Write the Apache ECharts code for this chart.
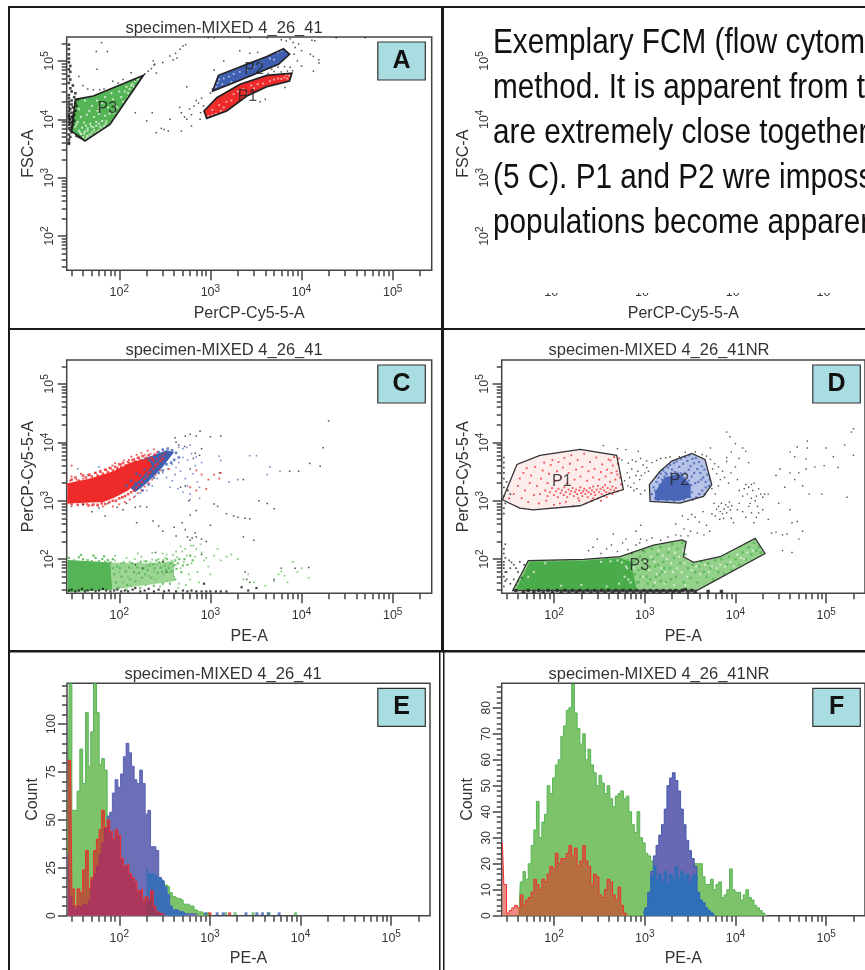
<!DOCTYPE html>
<html>
<head>
<meta charset="utf-8" />
<title>FCM panels</title>
<script src="https://cdn.jsdelivr.net/npm/echarts@6/dist/echarts.min.js"></script>
<style>html,body{margin:0;padding:0;background:#fff}#chart{width:865px;height:970px}</style>
</head>
<body>
<div id="chart"></div>
<script>
// tick values
const logMajor = [100, 1000, 10000, 100000];
const logMinor = [30,40,50,60,70,80,90,200,300,400,500,600,700,800,900,2000,3000,4000,5000,6000,7000,8000,9000,20000,30000,40000,50000,60000,70000,80000,90000,200000];
const countMajorE = [0, 25, 50, 75, 100];
const countMinorE = [5,10,15,20,30,35,40,45,55,60,65,70,80,85,90,95,105,110,115,120];
const countMajorF = [0, 10, 20, 30, 40, 50, 60, 70, 80];
const countMinorF = [2,4,6,8,12,14,16,18,22,24,26,28,32,34,36,38,42,44,46,48,52,54,56,58,62,64,66,68,72,74,76,78,82,84,86,88];

const captionLines = ['Exemplary FCM (flow cytom', 'method. It is apparent from t', 'are extremely close together', '(5 C). P1 and P2 wre imposs', 'populations become apparen'];

// panel A gates
const gateA1 = [[851,13900],[1175,23500],[2120,39800],[4160,56700],[7830,61500],[7380,45400],[4160,36300],[2510,25100],[1510,13900],[912,10400]];
const gateA2 = [[1060,30600],[1225,56700],[2510,87700],[4160,118700],[6340,162000],[7380,130000],[5580,87700],[2730,55300],[1640,39800]];
const gateA3 = [[33,22000],[52,25100],[184,56700],[79,8200],[42,4250],[30,6300]];
const aGaps3 = [[40,5000],[44,5200],[38,5600],[47,5500],[36,6400],[42,6200],[50,6000],[55,5800],[33,7500],[39,7200],[45,7000],[52,7300],[60,6500],[62,7500],[68,7700],[35,9000],[41,8800],[48,8400],[56,9000],[65,9400],[72,9200],[38,11000],[44,12000],[53,11000],[60,12500],[70,11500],[78,12500],[88,13000],[95,16000],[110,20000],[125,28000],[85,22000],[100,30000],[120,36000],[140,40000],[150,45000],[65,19000],[50,17000],[42,21000],[75,16000],[60,16000],[105,24000],[90,18000],[130,33000],[36,15000],[47,14000],[58,14000],[82,28000],[70,24000],[57,21000],[43,4700],[46,4900],[50,5300],[41,5700],[37,6000],[45,6400],[53,6500],[58,6200],[64,7000],[71,8400],[34,8200],[43,7800],[49,7600],[56,7800],[60,8400],[115,30000],[135,38000],[160,48000],[145,36000],[125,24000]];
const aGaps1 = [[950,11500],[1050,12000],[1150,12500],[1300,14000],[1050,14500],[1250,17500],[1500,20000],[1400,16000],[1700,21000],[2000,30000],[2300,33000],[2500,28000],[2800,38000],[3300,40000],[3800,41000],[4500,45000],[5000,48000],[5500,50000],[6000,49000],[6500,52000],[7000,50000],[7300,56000],[6800,58000],[3000,34000],[1800,27000]];
const aGaps2 = [[1250,48000],[1400,50000],[1600,54000],[1800,60000],[2100,65000],[1350,40000],[1150,36000],[1200,42000],[2500,70000],[3000,80000],[3600,92000],[4500,110000],[5500,140000],[6000,150000],[5000,105000],[1700,44000]];
const aNoise = [[64,206000],[56,145000],[74,145000],[57,72000],[36,54000],[40,38000],[45,33000],[52,32000],[61,32000],[68,33000],[85,45000],[97,42000],[110,48000],[135,63000],[150,47000],[175,52000],[190,60000],[208,67000],[225,74000],[255,62000],[240,85000],[236,100000],[245,88000],[300,94000],[360,122000],[390,104000],[430,112000],[465,158000],[500,180000],[535,190000],[415,135000],[150,13000],[230,13000],[200,9400],[255,5900],[310,6700],[290,7000],[360,10000],[345,6300],[460,16000],[480,13000],[520,11000],[550,10000],[620,12000],[590,15000],[700,21000],[800,23000],[740,19000],[660,17000],[550,36000],[480,6300],[620,7700],[770,10000],[780,13000],[840,17000],[1000,28000],[1050,33000],[2100,150000],[2700,135000],[3300,140000],[1400,100000],[1100,70000],[8100,207000],[9300,194000],[13000,225000],[14000,222000],[12500,130000],[13500,120000],[15500,105000],[15500,92000],[13500,67000],[10000,82000],[9000,100000],[8300,130000],[10000,150000],[950,250000],[1100,250000],[2700,250000],[4200,250000],[7500,240000],[6800,220000],[8500,170000],[6000,230000],[24000,250000],[50000,250000],[3500,20000],[4000,22000],[6600,35000],[5500,78000],[6500,80000],[7500,78000],[8000,68000],[5000,66000],[4300,61000],[6000,65000],[7000,67000],[4700,72000]];
const aEdge = [[28,4000],[28,4500],[29,5000],[28,5500],[30,6000],[29,6500],[28,7000],[30,7500],[31,8000],[29,8500],[30,9000],[32,9500],[29,10000],[31,10500],[30,11000],[28,11500],[32,12000],[30,13000],[33,14000],[29,15000],[31,16000],[34,17000],[30,18000],[33,19000],[30,21000],[35,22000],[32,24000],[28,26000],[33,28000],[30,30000],[29,34000],[31,38000],[28,42000],[29,48000],[28,55000],[29,65000],[28,72000],[29,82000],[28,95000],[28,110000],[28,130000],[28,160000],[28,190000],[28,3800],[38,4800],[36,5000],[34,5200],[28,8000],[28,9000],[28,10000],[28,11000],[28,12500],[28,14000],[28,16000],[28,18000],[28,20000],[28,23000],[30,7000],[31,9000],[31,11500]];

// panel C clouds, dense parts are outlines of the solid area
const cBlueCore = [[130,1700],[170,5000],[331,7300],[400,6800],[300,3800],[200,2000],[150,1400]];
const cRedCore = [[27,2000],[48,2400],[86,3200],[143,4700],[200,5200],[230,4000],[170,2300],[125,1500],[90,1150],[67,950],[27,900]];
const cGreenCore = [[27,97],[48,92],[80,88],[84,30],[27,27]];
const cGreenBand = [[80,88],[200,85],[400,92],[400,42],[84,30]];
const cRed = [[27,900],[27,1100],[28,1300],[28,1600],[27,1900],[29,2200],[30,2600],[32,1000],[34,2300],[36,950],[38,2900],[40,2400],[44,880],[46,2700],[50,830],[54,3000],[58,820],[62,3100],[66,800],[72,3400],[78,3700],[84,4000],[90,4400],[96,3700],[104,4200],[112,4900],[120,4100],[128,5000],[136,5700],[146,5200],[155,6100],[165,5500],[175,6600],[190,6100],[205,7200],[220,6400],[240,7600],[260,6800],[85,800],[100,870],[115,950],[130,1050],[145,1150],[160,1350],[175,1500],[190,1750],[210,2000],[230,2300],[250,2800],[280,3300],[200,4400],[180,3500],[220,3800],[240,4700],[260,5100],[280,5600],[300,6000],[320,6400],[210,5200],[190,4700],[155,4300],[700,3300],[800,2800],[950,2300],[1100,2800],[1250,2400],[700,1500],[900,1600],[600,1700],[350,3500],[1300,3000],[30,4000]];
const cRedFuzz = [[30,2300],[33,2500],[36,2200],[40,2700],[43,2500],[47,2800],[50,2600],[55,3000],[58,2700],[62,3200],[66,2900],[70,3400],[75,3100],[80,3600],[85,3300],[90,3800],[95,3500],[100,4200],[105,3800],[110,4400],[118,4000],[125,4600],[130,4300],[140,5000],[150,4700],[160,5400],[170,5000],[180,5800],[195,5400],[210,6000],[225,5400],[245,6200],[30,880],[35,850],[40,880],[46,830],[52,860],[58,850],[64,900],[70,880],[78,950],[85,1000],[92,1000],[100,1100],[108,1150],[116,1200],[125,1300],[135,1400],[145,1500],[155,1700],[165,1900],[178,2100],[190,2400],[205,2700],[220,3100],[235,3500],[250,3900],[265,4300],[285,4800],[300,5200],[180,2800],[200,3300],[215,4500],[235,5000],[250,4100],[165,3000],[190,3800],[210,3000]];
const cBlue = [[330,2500],[360,1700],[380,2200],[410,2800],[440,1600],[470,3200],[500,1400],[530,2400],[560,1800],[600,1300],[640,2900],[680,4000],[720,2100],[760,1700],[800,4500],[450,4500],[500,5500],[380,4200],[340,3500],[300,3000],[260,2400],[230,1800],[200,1500],[170,1350],[150,1200],[420,3700],[560,5000],[620,6400],[700,5600],[1250,5800],[1300,4900],[2700,5900],[3200,5900],[4500,3800],[5800,3200],[4200,2800],[2000,2300],[1600,2100],[760,1100],[600,1050],[35,3500],[60,3800],[45,2800],[500,7800],[450,8200],[550,8200],[600,9000]];
const cBlueFuzz = [[150,2000],[170,2700],[190,3400],[200,2500],[215,3100],[230,4300],[170,1700],[185,2200],[240,3000],[260,3900],[280,4800],[300,5600],[270,6800],[300,7500],[340,7800],[380,7300],[420,6600],[450,5500],[400,5000],[370,4500],[330,4200],[300,3300],[270,3000],[240,2500],[210,1900],[180,1500],[350,6000],[310,6500],[250,5900],[270,5200],[135,2200],[155,2900],[120,1800]];
const cGreen = [[90,95],[100,60],[105,85],[110,40],[115,75],[120,105],[125,50],[130,90],[135,35],[140,70],[148,100],[155,55],[160,85],[168,42],[175,110],[180,65],[188,92],[195,36],[200,75],[210,52],[220,88],[230,98],[240,62],[250,45],[260,80],[270,100],[280,34],[290,70],[300,90],[310,55],[320,105],[330,42],[345,78],[360,60],[375,95],[390,118],[400,50],[415,80],[430,108],[450,38],[470,70],[490,135],[510,90],[530,150],[550,115],[580,55],[600,45],[620,85],[650,170],[680,110],[700,150],[720,60],[750,40],[780,180],[800,130],[850,95],[900,105],[950,75],[1000,55],[1100,115],[1200,150],[1300,95],[1500,110],[1700,120],[2000,100],[2300,45],[2600,55],[3000,40],[4000,35],[5000,42],[5600,55],[6000,62],[6500,52],[8000,90],[9000,60],[10000,70],[12000,48],[7000,40],[440,32],[540,36],[420,135],[330,120],[610,170],[470,165],[90,115],[160,125],[230,128],[300,125]];
const cGreenFuzz = [[28,105],[32,95],[36,108],[40,100],[45,96],[50,92],[55,105],[60,92],[65,100],[70,90],[75,96],[80,88],[85,100],[38,118],[52,115],[68,112],[85,70],[88,55],[92,40],[95,75],[98,32],[102,70],[106,50],[112,88],[118,62],[122,36],[128,72],[132,45],[138,85],[145,60],[150,42],[158,72],[165,58],[172,90],[178,48],[185,70],[192,55],[198,92],[205,65],[215,78],[225,48],[235,82],[245,70],[255,95],[265,58],[275,88],[285,72],[295,60],[305,95],[315,78],[325,65],[335,100],[350,70],[365,85],[380,62],[395,78],[410,95],[425,68],[440,85],[455,100],[480,60],[500,78],[520,100],[560,80],[600,115],[640,95],[410,45],[360,38],[300,38],[240,35],[170,32],[120,30]];
const cNoise = [[30,800],[40,850],[50,650],[60,750],[70,550],[75,900],[95,770],[110,700],[120,900],[150,770],[170,800],[200,780],[155,420],[235,450],[270,370],[300,300],[400,350],[420,250],[490,420],[530,320],[600,570],[680,280],[560,240],[600,210],[630,230],[700,240],[800,220],[900,200],[1200,800],[1100,880],[1500,600],[1800,550],[2000,520],[2400,500],[2700,490],[3400,1000],[4200,900],[5000,730],[2300,240],[3000,210],[2400,60],[2500,45],[2700,40],[5000,45],[6000,70],[8500,70],[12000,72],[19800,23300],[17300,8100],[12300,4350],[16000,3900],[9300,3200],[7400,3200],[2300,2300],[1260,3000],[1300,12800],[1000,12500],[770,15500],[700,12800],[600,13700],[530,12800],[410,12000],[450,9000],[520,8500],[420,10000],[680,6500],[760,6000],[650,5300],[800,7800],[600,3500],[530,1800],[470,1700],[580,1000],[700,680],[1000,380],[800,120],[300,90],[250,130],[180,70],[150,80],[330,60]];
const cBase = [[28,29],[30,30],[33,28],[36,29],[39,31],[42,28],[45,29],[50,30],[55,28],[60,29],[66,31],[72,29],[80,28],[88,29],[95,30],[105,28],[115,29],[125,28],[140,30],[150,32],[170,28],[190,29],[210,31],[240,28],[270,30],[310,28],[350,29],[420,28],[500,29],[560,28],[620,29],[700,28],[800,28],[900,28],[1000,28],[1150,28],[1300,28],[1500,28],[2200,33],[2600,29],[3200,32],[850,38]];

// panel D gates, clouds
const gateD1 = [[27,1040],[39,4180],[70,5970],[194,7570],[491,5970],[582,1550],[381,1270],[194,820],[59,700],[42,748]];
const gateD2 = [[1125,1890],[1475,3200],[1985,4770],[3300,6460],[4620,5090],[5480,1890],[4440,1190],[2455,910],[1145,975]];
const gateD3 = [[35,29],[52,94],[211,99],[534,110],[1250,174],[2560,213],[2860,199],[2670,110],[3440,88],[6770,110],[16500,227],[21200,125],[3750,29]];
const dBlueCore = [[1300,1400],[1650,2500],[2400,2900],[3200,1900],[3200,1150],[2400,1000],[1300,1030]];
const dGreenCore = [[38,30],[54,90],[211,94],[534,105],[700,90],[820,30]];
const dRed = [[70,1300],[80,1500],[85,1200],[90,1400],[95,1650],[100,1250],[105,1450],[110,1150],[112,1600],[118,1350],[122,1500],[128,1250],[130,1700],[135,1400],[140,1150],[145,1550],[150,1300],[155,1450],[160,1650],[165,1200],[170,1400],[175,1550],[180,1300],[185,1100],[190,1500],[195,1700],[200,1350],[205,1200],[210,1450],[215,1600],[222,1300],[228,1500],[235,1150],[240,1400],[248,1650],[255,1300],[262,1500],[270,1750],[278,1400],[285,1250],[295,1550],[305,1800],[315,1400],[325,1600],[335,1300],[345,1700],[355,1500],[365,1850],[375,1400],[390,1650],[405,1350],[420,1550],[440,1750],[460,1500],[480,1650],[500,1450],[32,1100],[36,1300],[40,1800],[42,2400],[44,1100],[46,3000],[48,1500],[50,3600],[52,950],[54,2000],[56,2700],[60,1250],[62,3800],[65,1800],[68,900],[72,2400],[75,3300],[78,4500],[82,1000],[85,2000],[88,2900],[92,4100],[96,5000],[100,850],[104,2200],[108,3200],[112,4600],[116,900],[120,2500],[125,3700],[130,5400],[135,950],[140,2000],[145,3000],[150,4300],[155,6000],[162,800],[168,2300],[175,3400],[182,5000],[190,1000],[196,2600],[205,3800],[215,6400],[225,900],[232,2200],[240,3200],[250,4600],[260,1000],[270,2500],[280,3500],[292,5500],[305,1100],[315,2300],[328,3100],[340,4200],[355,1200],[370,2600],[385,3400],[400,5100],[415,2100],[430,3000],[445,4000],[460,5600],[475,2300],[490,3200],[505,4300],[520,5300],[535,2500],[550,1900],[440,1300],[380,1150],[330,1000],[270,1100],[500,2800],[420,4900]];
const dBlue = [[1200,1300],[1250,1700],[1300,1100],[1350,2100],[1420,2500],[1500,2900],[1600,3300],[1700,3000],[1800,3700],[1900,4100],[2000,3400],[2100,4400],[2250,4700],[2400,3800],[2500,5200],[2650,4300],[2800,5600],[2950,4800],[3100,6000],[3200,3900],[3350,5200],[3500,4400],[3650,5400],[3800,3500],[3950,4600],[4100,3000],[4250,3900],[4400,2500],[4550,3400],[4700,2100],[4900,2800],[5100,1800],[5200,2300],[4300,1500],[4000,1300],[3700,1150],[3400,1050],[3100,1600],[2900,1250],[4600,1300],[3600,2000],[3300,2600],[3900,2100],[2800,3000],[3050,3400],[3500,3000],[4200,2300],[4700,1700],[2300,3000],[2600,2700],[1300,1500],[1350,1250],[1450,1900],[1550,2300],[1650,2600],[1750,2800],[1950,2950],[2150,3100],[2500,2950],[2750,2450],[3050,2200],[3250,1850],[3300,1400],[3150,1150],[2700,1050],[2100,1000],[1750,1020],[1400,1030]];
const dGreen = [[700,60],[760,90],[820,40],[880,110],[930,70],[1000,135],[1050,50],[1100,95],[1200,150],[1250,35],[1300,75],[1380,120],[1450,55],[1500,160],[1600,90],[1700,40],[1800,130],[1900,70],[2000,180],[2100,105],[2200,50],[2300,150],[2450,85],[2600,190],[2700,40],[2800,120],[3000,70],[3200,48],[3400,80],[3600,60],[3800,40],[4000,75],[4200,90],[4500,60],[4800,50],[5000,85],[5300,70],[5700,45],[6000,95],[6500,60],[7000,100],[7500,55],[8000,80],[8500,110],[9000,65],[10000,100],[11000,80],[12000,130],[13000,100],[14000,160],[15000,120],[16000,190],[17000,140],[18000,160],[19000,130],[900,50],[1150,45],[1500,42],[1950,45],[540,45],[570,70],[600,85],[620,50],[650,95],[680,40],[720,80],[780,55],[800,100],[850,65],[860,40],[960,90],[1020,65],[1080,38],[1140,75],[1230,100],[1330,50],[1400,80],[1550,60],[1650,70],[60,90],[75,90],[100,92],[130,92],[170,95],[240,96],[300,100],[380,104],[450,100],[510,100],[48,60],[52,45],[55,72],[45,40]];
const dGaps = [[850,85],[950,50],[1020,90],[1120,65],[1180,110],[1280,90],[1360,55],[1420,140],[1520,70],[1580,115],[1680,60],[1750,100],[1850,150],[1950,85],[2050,60],[2150,130],[2280,70],[2400,110],[2550,60],[2650,140],[2750,85],[2950,50],[3050,95],[3300,65],[3700,75],[4100,55],[4600,80],[5100,60],[5500,75],[6200,70],[6800,80],[7700,75],[8800,90],[9600,75],[10500,120],[11500,105],[12500,100],[13500,130],[15500,140],[700,40],[1300,40],[2100,36],[2800,36],[1650,38],[620,75],[750,70],[560,88],[640,70],[600,50],[660,45],[500,95],[420,92],[330,90],[80,85],[60,60],[52,50],[120,35],[200,36],[380,34],[520,38]];
const dNoise = [[600,2200],[640,3000],[680,2500],[720,3500],[760,2000],[800,2700],[840,3200],[880,2300],[920,2700],[960,4100],[1000,3000],[1050,3700],[1100,3200],[650,1800],[700,1700],[760,1500],[820,1600],[900,1300],[1000,1500],[660,4400],[730,5000],[800,4700],[900,5300],[1050,4800],[1200,4500],[1350,4900],[1500,5300],[1700,5400],[1900,5600],[2400,5700],[2800,6800],[3600,6900],[4300,6200],[4800,5800],[5300,5100],[350,8800],[500,7800],[620,7500],[850,7000],[560,5000],[5600,3500],[5900,4300],[6200,2900],[6500,3800],[6800,2300],[7200,3200],[7600,2500],[8000,4700],[8400,2000],[8900,3000],[5500,1600],[6000,1300],[6500,1800],[10000,3800],[10500,2300],[11000,1500],[12000,1200],[12500,1600],[13000,1900],[13500,1300],[14000,1700],[15000,1100],[15500,1500],[16000,2000],[17000,1200],[18000,1600],[19000,1300],[20000,1150],[15000,1900],[14500,900],[16500,1000],[17500,800],[18000,620],[21000,1300],[23000,1300],[5800,900],[6200,720],[6500,800],[6800,650],[7000,900],[7200,600],[7500,720],[7800,850],[8000,620],[8300,780],[8600,950],[8800,700],[9100,820],[5500,600],[6000,550],[6700,480],[7400,500],[9000,500],[9500,420],[10500,700],[11000,900],[12000,650],[13000,520],[14000,800],[15000,620],[16000,420],[17000,520],[20000,700],[23000,480],[2600,550],[3000,480],[3300,580],[3600,520],[4000,430],[4400,650],[4800,380],[5200,300],[2200,400],[2700,330],[3200,300],[3800,280],[4500,260],[900,380],[800,300],[450,270],[300,220],[240,140],[270,160],[330,125],[380,150],[430,175],[500,135],[570,190],[650,145],[720,125],[800,175],[880,190],[950,140],[1050,210],[1200,230],[1500,210],[1800,240],[2200,260],[2500,250],[900,220],[620,220],[3000,250],[25000,280],[28000,290],[33000,260],[37000,270],[33000,140],[42000,130],[50000,220],[42000,420],[48000,440],[55000,300],[40000,700],[30000,900],[35000,1700],[45000,2300],[55000,1800],[65000,1300],[90000,1300],[40000,3000],[50000,3000],[60000,3500],[28000,2700],[31000,3500],[45000,5700],[60000,5200],[75000,3800],[95000,4000],[40000,6800],[48000,8300],[62000,8000],[62000,10500],[100000,8000],[120000,5700],[135000,3700],[170000,1150],[200000,6000],[160000,9000],[190000,15000],[200000,17000],[8000,15000],[8700,12500],[10000,9500],[13000,7000],[5300,8000],[9000,6800],[12000,8000],[8000,5500],[11000,5300],[14000,4500]];
const dCorner = [[28,34],[29,42],[28,50],[29,60],[28,70],[28,80],[28,90],[29,105],[28,125],[28,150],[29,180],[32,95],[34,88],[36,80],[38,70],[40,60],[30,45],[33,38],[36,45],[40,42],[44,48],[38,36],[30,60],[33,70],[42,90],[47,80],[28,1200],[28,1700],[28,2400],[28,3000],[28,3700],[28,4500],[29,900],[28,750],[28,600],[31,1500],[30,2100],[33,1300],[28,5500]];
const dBase = [[38,29],[46,28],[52,29],[60,28],[68,29],[76,28],[86,29],[96,28],[108,29],[120,28],[132,29],[146,28],[160,29],[176,28],[192,29],[210,28],[232,29],[255,28],[280,29],[305,28],[335,29],[365,28],[400,29],[440,28],[480,29],[525,28],[575,29],[630,28],[690,29],[750,28],[820,29],[900,28],[980,29],[1060,28],[1150,29],[1250,28],[1360,29],[1480,28],[1600,29],[1750,28],[1900,29],[2050,28],[2200,29],[2400,28],[2600,29],[2800,30],[3000,28],[3300,29],[3600,28],[5000,28],[7000,28]];

// panel labels inside gates
const labelsA = [[74,15200,'P3'],[3020,72000,'P2'],[2550,24500,'P1']];
const labelsD = [[122,2150,'P1'],[2410,2210,'P2'],[870,79,'P3']];

// histogram bins, PE-A
const peBins = [27,29,31,33,35.5,38,41,44,47,50,54,58,62,66,71,76,81,87,93,100,107,115,123,132,141,151,162,174,186,200,214,229,245,263,282,302,324,347,372,398,427,457,490,525,562,603,646,692,741,794,851,912,977,1047,1122,1202,1288,1380,1479,1585,1698,1820,1950,2089,2239,2399,2570,2754,2951,3162,3388,3631,3890,4169,4467,4786,5129,5495,5888,6310,6761,7244,7762,8318,8913,9550,10233,10965,11749,12589,13490,14454,15488,16596,17783,19055,20417,21878,23442];

const eGreen = [30,121,55,55,65,87,69,106,78,96,121,106,79,82,76,50,48,44,40,40,42,38,38,36,34,34,30,28,26,25,22,22,21,20,19,18,16,15,12,10,9,9,8,6,6,5,5,3,2,2,1,1,1,0];
const eBlue = [32,10,5,3,5,4,6,5,8,18,22,26,32,38,46,52,54,64,71,67,74,83,90,85,78,71,69,76,69,53,55,36,36,34,20,18,15,11,5,3,3,2,2,1,1,1,1,1,0];
const eRed = [81,81,14,5,14,12,24,34,14,20,34,40,45,55,46,50,44,40,45,42,30,26,27,22,20,18,13,14,8,10,8,13,5,2,1,1,0];
const eOverlap = [25,22,22,21,20,19,18,15,11,5,3,3,2,2,1,0];
const eOverlapFirst = 29;
const eDotsGreen = [[1500,1],[1900,1],[3000,1],[4500,1],[8800,1],[950,1]];
const eDotsBlue = [[1200,1],[1400,1],[2500,1],[3300,1],[3800,1],[4400,1],[5800,1],[900,1]];
const eDotsRed = [[1650,1],[1000,1]];

const fGreen = [0,0,0,0,0,0,0,13,17,14,20,27,33,44,30,36,39,50,47,53,58,60,69,73,79,80,89,78,72,66,70,60,64,58,55,50,54,51,47,50,45,42,46,47,48,45,46,40,35,32,40,30,28,24,23,21,20,18,17,19,16,18,16,19,17,20,17,18,16,18,19,20,20,20,15,12,12,14,10,12,13,7,8,10,18,10,9,9,6,8,10,7,6,4,3,2,1,0];
const fBlue = [1,3,9,17,23,27,31,35,41,50,53,55,52,48,41,35,29,25,22,19,9,6,5,3,2,1,0];
const fBlueFirst = 52;
const fOverlap = [1,3,9,15,19,14,16,13,17,12,16,14,19,14,17,15,16,13,15,16,9,6,5,3,2,1,0];
const fRed = [28,12,1,2,3,4,3,8,4,6,7,9,14,12,10,14,13,16,19,18,24,20,22,22,24,27,23,26,19,21,27,21,19,12,16,15,8,7,10,14,13,8,6,11,4,1,0];

const GREEN = '#55b455', RED = '#ee2a2a', BLUE = '#3f5fb0', TICK = '#444', TXT = '#333';

// grid boxes
const panels = [
  {left: 66.7, top: 37, width: 365, height: 233.3, letter: 'A', xName: 'PerCP-Cy5-5-A', yName: 'FSC-A', title: 'specimen-MIXED 4_26_41', titleX: 224, titleY: 28},
  {left: 501.7, top: 37, width: 364, height: 233.3, letter: '', xName: 'PerCP-Cy5-5-A', yName: 'FSC-A', title: '', titleX: 0, titleY: 0},
  {left: 66.7, top: 360, width: 365, height: 233.3, letter: 'C', xName: 'PE-A', yName: 'PerCP-Cy5-5-A', title: 'specimen-MIXED 4_26_41', titleX: 224, titleY: 350},
  {left: 501.7, top: 360, width: 364, height: 233.3, letter: 'D', xName: 'PE-A', yName: 'PerCP-Cy5-5-A', title: 'specimen-MIXED 4_26_41NR', titleX: 659, titleY: 350},
  {left: 67, top: 683.3, width: 363, height: 232.4, letter: 'E', xName: 'PE-A', yName: 'Count', title: 'specimen-MIXED 4_26_41', titleX: 223, titleY: 674},
  {left: 501.7, top: 683.3, width: 364, height: 232.4, letter: 'F', xName: 'PE-A', yName: 'Count', title: 'specimen-MIXED 4_26_41NR', titleX: 659, titleY: 674}
];

const xAxes = [], yAxes = [];
const powRich = {
  b: {fontSize: 12.5, color: TXT, fontFamily: 'Liberation Sans'},
  s: {fontSize: 10, color: TXT, fontFamily: 'Liberation Sans', padding: [0, 0, 7, 0]}
};
function powLabel(v) { return '{b|10}{s|' + Math.round(Math.log10(v)) + '}'; }

function tickAxis(base, vals, len) {
  return Object.assign({}, base, {
    axisLine: {show: false},
    axisLabel: {show: false},
    splitLine: {show: false},
    axisTick: {show: true, length: len, customValues: vals, lineStyle: {color: TICK, width: 1.5}}
  });
}

panels.forEach(function (p, g) {
  const xBase = {type: 'log', gridIndex: g, min: 26.5, max: 268000, position: 'bottom'};
  const xMain = tickAxis(xBase, logMajor, 10);
  xMain.axisLine = {show: false, onZero: false};
  xMain.axisLabel = {show: true, customValues: logMajor, formatter: powLabel, rich: powRich, margin: 14};
  xMain.name = p.xName;
  xMain.nameLocation = 'middle';
  xMain.nameGap = 35;
  xMain.nameTextStyle = {fontSize: 16, color: TXT, fontFamily: 'Liberation Sans'};
  xAxes.push(xMain, tickAxis(xBase, logMinor, 6));

  const isCount = g >= 4;
  const yBase = isCount
    ? {type: 'value', gridIndex: g, min: 0, max: g === 4 ? 121.3 : 89.4, position: 'left'}
    : {type: 'log', gridIndex: g, min: 26, max: 257000, position: 'left'};
  const major = isCount ? (g === 4 ? countMajorE : countMajorF) : logMajor;
  const minor = isCount ? (g === 4 ? countMinorE : countMinorF) : logMinor;
  const yMain = tickAxis(yBase, major, 9);
  yMain.axisLabel = {
    show: true, customValues: major, rotate: 90, margin: 9,
    formatter: isCount ? function (v) { return String(v); } : powLabel,
    rich: powRich, fontSize: 12, color: TXT, fontFamily: 'Liberation Sans'
  };
  yMain.name = p.yName;
  yMain.nameLocation = 'middle';
  yMain.nameGap = isCount ? 26 : 30;
  yMain.nameRotate = 90;
  yMain.nameTextStyle = {fontSize: 16, color: TXT, fontFamily: 'Liberation Sans'};
  yAxes.push(yMain, tickAxis(yBase, minor, 5));
});

function dots(g, pts, color, size, z) {
  return {type: 'scatter', xAxisIndex: g * 2, yAxisIndex: g * 2, data: pts, symbol: 'rect', symbolSize: size,
    itemStyle: {color: color}, silent: true, z: z, animation: false};
}
function poly(g, pts, fill, stroke, width, z) {
  return {type: 'custom', xAxisIndex: g * 2, yAxisIndex: g * 2, data: [pts[0]], silent: true, z: z, animation: false, clip: true,
    renderItem: function (params, api) {
      return {type: 'polygon', shape: {points: pts.map(function (q) { return api.coord(q); })},
        style: {fill: fill, stroke: stroke, lineWidth: width}};
    }};
}
function gateText(g, labels) {
  return {type: 'scatter', xAxisIndex: g * 2, yAxisIndex: g * 2, symbolSize: 0, silent: true, z: 6, animation: false,
    data: labels.map(function (l) { return {value: [l[0], l[1]], name: l[2]}; }),
    label: {show: true, position: 'inside', formatter: '{b}', fontSize: 16, color: '#222', fontFamily: 'Liberation Sans'}};
}
function hist(g, vals, first, line, fill, opacity, z) {
  return {type: 'line', xAxisIndex: g * 2, yAxisIndex: g * 2, step: 'middle', symbol: 'none', silent: true, z: z, animation: false,
    data: vals.map(function (v, i) { return [peBins[i + first], v]; }),
    lineStyle: {color: line, width: 1}, areaStyle: {color: fill, opacity: opacity, origin: 'start'}};
}

const series = [
  // panel A
  poly(0, gateA3, GREEN, null, 0, 2),
  poly(0, gateA1, RED, null, 0, 2),
  poly(0, gateA2, BLUE, null, 0, 2),
  dots(0, aGaps3, '#eaf7e6', 2, 3), dots(0, aGaps1, '#fbd5d5', 1.8, 3), dots(0, aGaps2, '#c9d3ee', 1.8, 3),
  dots(0, aNoise, '#222', 1.5, 4), dots(0, aEdge, '#111', 2.6, 4),
  poly(0, gateA3, 'transparent', '#222', 1.7, 5), poly(0, gateA1, 'transparent', '#222', 1.7, 5), poly(0, gateA2, 'transparent', '#222', 1.7, 5),
  gateText(0, labelsA),
  // panel C
  poly(2, cGreenBand, '#9dd694', null, 0, 1), poly(2, cGreenCore, GREEN, null, 0, 2),
  poly(2, cBlueCore, BLUE, null, 0, 2), poly(2, cRedCore, RED, null, 0, 2),
  dots(2, cGreen, '#6fc067', 1.8, 3), dots(2, cGreenFuzz, GREEN, 2.3, 3), dots(2, cBlue, '#5470bd', 1.6, 3), dots(2, cBlueFuzz, BLUE, 2.6, 3),
  dots(2, cRed, RED, 1.8, 3), dots(2, cRedFuzz, RED, 2.6, 3),
  dots(2, cNoise, '#222', 1.5, 4), dots(2, cBase, '#111', 2.2, 4),
  // panel D
  poly(3, gateD1, '#fdecec', null, 0, 1), poly(3, gateD2, '#b8c3e8', null, 0, 1), poly(3, gateD3, '#93d089', null, 0, 1),
  poly(3, dBlueCore, '#4a66b8', null, 0, 2), poly(3, dGreenCore, '#4aab4a', null, 0, 2),
  dots(3, dRed, RED, 1.8, 3), dots(3, dBlue, '#4a66b8', 2.2, 3), dots(3, dGreen, GREEN, 2.4, 3), dots(3, dGaps, '#e6f5e2', 2, 3),
  dots(3, dNoise, '#222', 1.4, 4), dots(3, dCorner, '#222', 1.7, 4), dots(3, dBase, '#111', 3.4, 4),
  poly(3, gateD1, 'transparent', '#333', 1.3, 5), poly(3, gateD2, 'transparent', '#333', 1.3, 5), poly(3, gateD3, 'transparent', '#333', 1.3, 5),
  gateText(3, labelsD),
  // panel E
  hist(4, eGreen, 0, '#55b455', '#7cc36a', 1, 1),
  hist(4, eBlue, 0, '#5a62b4', '#6a6fb8', 1, 2),
  hist(4, eOverlap, eOverlapFirst, '#3a6fb8', '#3a6fb8', 1, 3),
  hist(4, eRed, 0, '#f03030', 'rgb(215,20,30)', 0.6, 4),
  dots(4, eDotsGreen, GREEN, 3, 5), dots(4, eDotsBlue, BLUE, 3, 5), dots(4, eDotsRed, RED, 3, 5),
  // panel F
  hist(5, fGreen, 0, '#55b455', '#7cc36a', 1, 1),
  hist(5, fBlue, fBlueFirst, '#3f58ad', '#6868b4', 1, 2),
  hist(5, fOverlap, fBlueFirst, '#2f6fb8', '#2f6fb8', 1, 3),
  hist(5, fRed, 0, '#f03030', 'rgb(230,40,30)', 0.55, 4)
];

// frame lines, white box over panel B, letter boxes
const graphic = [];
function bar(x, y, w, h) { graphic.push({type: 'rect', z: 50, silent: true, shape: {x: x, y: y, width: w, height: h}, style: {fill: '#1a1a1a'}}); }
graphic.push({type: 'rect', z: 40, silent: true, shape: {x: 492, y: 20, width: 373, height: 273}, style: {fill: '#fff'}});
bar(8, 6, 857, 2); bar(8, 6, 2, 964);
bar(441, 6, 3, 644); bar(439, 650, 1.5, 320); bar(443, 650, 1.5, 320);
bar(8, 328, 857, 2); bar(8, 650, 857, 2.5);
captionLines.forEach(function (t, i) {
  graphic.push({type: 'text', z: 45, silent: true, x: 493, y: 43 + i * 45.2, scaleX: 0.85,
    style: {text: t, fontSize: 35, fontFamily: 'Liberation Sans', fill: '#111', textVerticalAlign: 'middle'}});
});
panels.forEach(function (p) {
  if (!p.letter) return;
  const right = p.left > 400 ? 860.3 : 425.3;
  const boxTop = p.top + 5;
  graphic.push({type: 'rect', z: 45, silent: true, shape: {x: right - 47.5, y: boxTop, width: 47.5, height: 38},
    style: {fill: '#a9dde1', stroke: '#333', lineWidth: 1.2}});
  graphic.push({type: 'text', z: 46, silent: true, x: right - 23.7, y: boxTop + 19,
    style: {text: p.letter, fontSize: 25, fontWeight: 'bold', fontFamily: 'Liberation Sans', fill: '#111', textAlign: 'center', textVerticalAlign: 'middle'}});
});

const titles = panels.filter(function (p) { return p.title; }).map(function (p) {
  return {text: p.title, left: p.titleX, top: p.titleY, textAlign: 'center', textVerticalAlign: 'middle',
    textStyle: {fontSize: 16.5, fontWeight: 'normal', color: TXT, fontFamily: 'Liberation Sans'}, padding: 0};
});

const chart = echarts.init(document.getElementById('chart'), null, {renderer: 'canvas'});
chart.setOption({
  animation: false,
  backgroundColor: '#fff',
  title: titles,
  grid: panels.map(function (p) {
    return {left: p.left, top: p.top, width: p.width, height: p.height, show: true, backgroundColor: 'transparent', borderColor: '#444', borderWidth: 1.5, containLabel: false};
  }),
  xAxis: xAxes,
  yAxis: yAxes,
  series: series,
  graphic: graphic
});
</script>
</body>
</html>
